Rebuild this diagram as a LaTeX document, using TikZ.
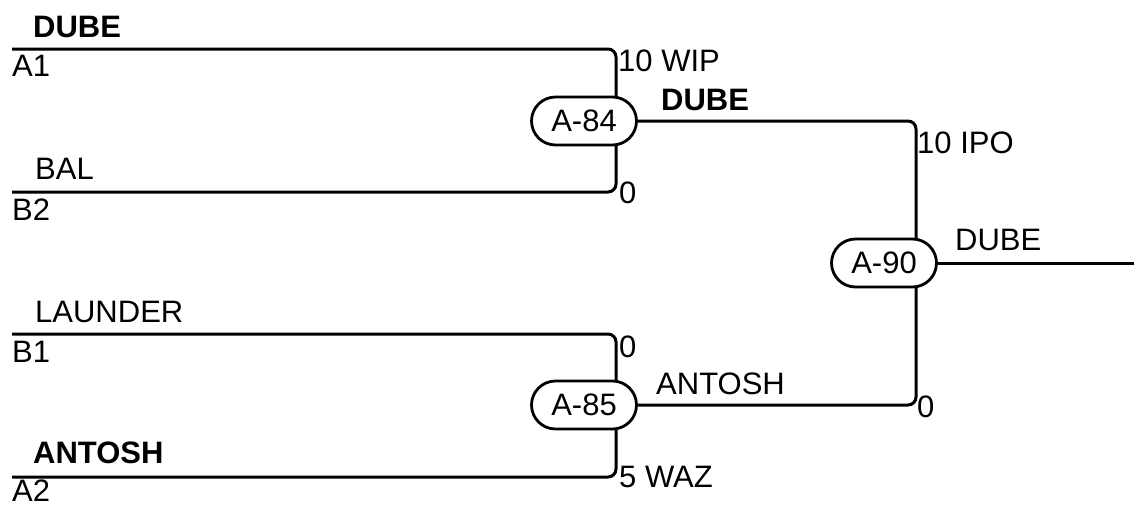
\documentclass[tikz,border=0pt]{standalone}
\usepackage{fontspec}
\setmainfont{Liberation Sans}
\usetikzlibrary{backgrounds}
\tikzset{
  game/.style={draw, line width=2.8pt, fill=white, rounded corners=24pt,
    minimum width=105pt, minimum height=48pt, inner sep=0pt},
  lbl/.style={anchor=base west, inner sep=0pt},
  wire/.style={line width=3pt, rounded corners=8pt}
}
\begin{document}
\begin{tikzpicture}[x=1pt, y=-1pt, font=\fontsize{31}{37}\selectfont]
  \useasboundingbox (0,0) rectangle (1134,504);
  % first round entries
  \coordinate (a1) at (12,49);
  \coordinate (b2) at (12,192);
  \coordinate (b1) at (12,334);
  \coordinate (a2) at (12,477);
  \coordinate (j84) at (616,121);
  \coordinate (j85) at (616,405);
  \coordinate (j90) at (916,263);
  \coordinate (champ) at (1134,263);
  % games
  \node[game] (A84) at (584,121) {A-84};
  \node[game] (A85) at (584,405) {A-85};
  \node[game] (A90) at (884,263) {A-90};
  \begin{pgfonlayer}{background}
    \draw[wire] (a1) -| (j84) |- (b2);
    \draw[wire] (b1) -| (j85) |- (a2);
    \draw[wire] (A84) -| (j90) |- (A85);
    \draw[wire] (A90) -- (champ);
  \end{pgfonlayer}
  % team names
  \node[lbl] (nA1) at (33,37) {\bfseries DUBE};
  \node[lbl] (sA1) at (12,76) {A1};
  \node[lbl] (nB2) at (35,179) {BAL};
  \node[lbl] (sB2) at (12,220) {B2};
  \node[lbl] (nB1) at (35,322) {LAUNDER};
  \node[lbl] (sB1) at (12,362) {B1};
  \node[lbl] (nA2) at (33,463) {\bfseries ANTOSH};
  \node[lbl] (sA2) at (12,501) {A2};
  % scores
  \node[lbl] (s84a) at (618,71) {10 WIP};
  \node[lbl] (s84b) at (619,203) {0};
  \node[lbl] (s85a) at (619,357) {0};
  \node[lbl] (s85b) at (619,487) {5 WAZ};
  \node[lbl] (s90a) at (917,153) {10 IPO};
  \node[lbl] (s90b) at (917,417) {0};
  % winners
  \node[lbl] (w84) at (661,110) {\bfseries DUBE};
  \node[lbl] (w85) at (656,394) {ANTOSH};
  \node[lbl] (w90) at (955,250) {DUBE};
\end{tikzpicture}
\end{document}
